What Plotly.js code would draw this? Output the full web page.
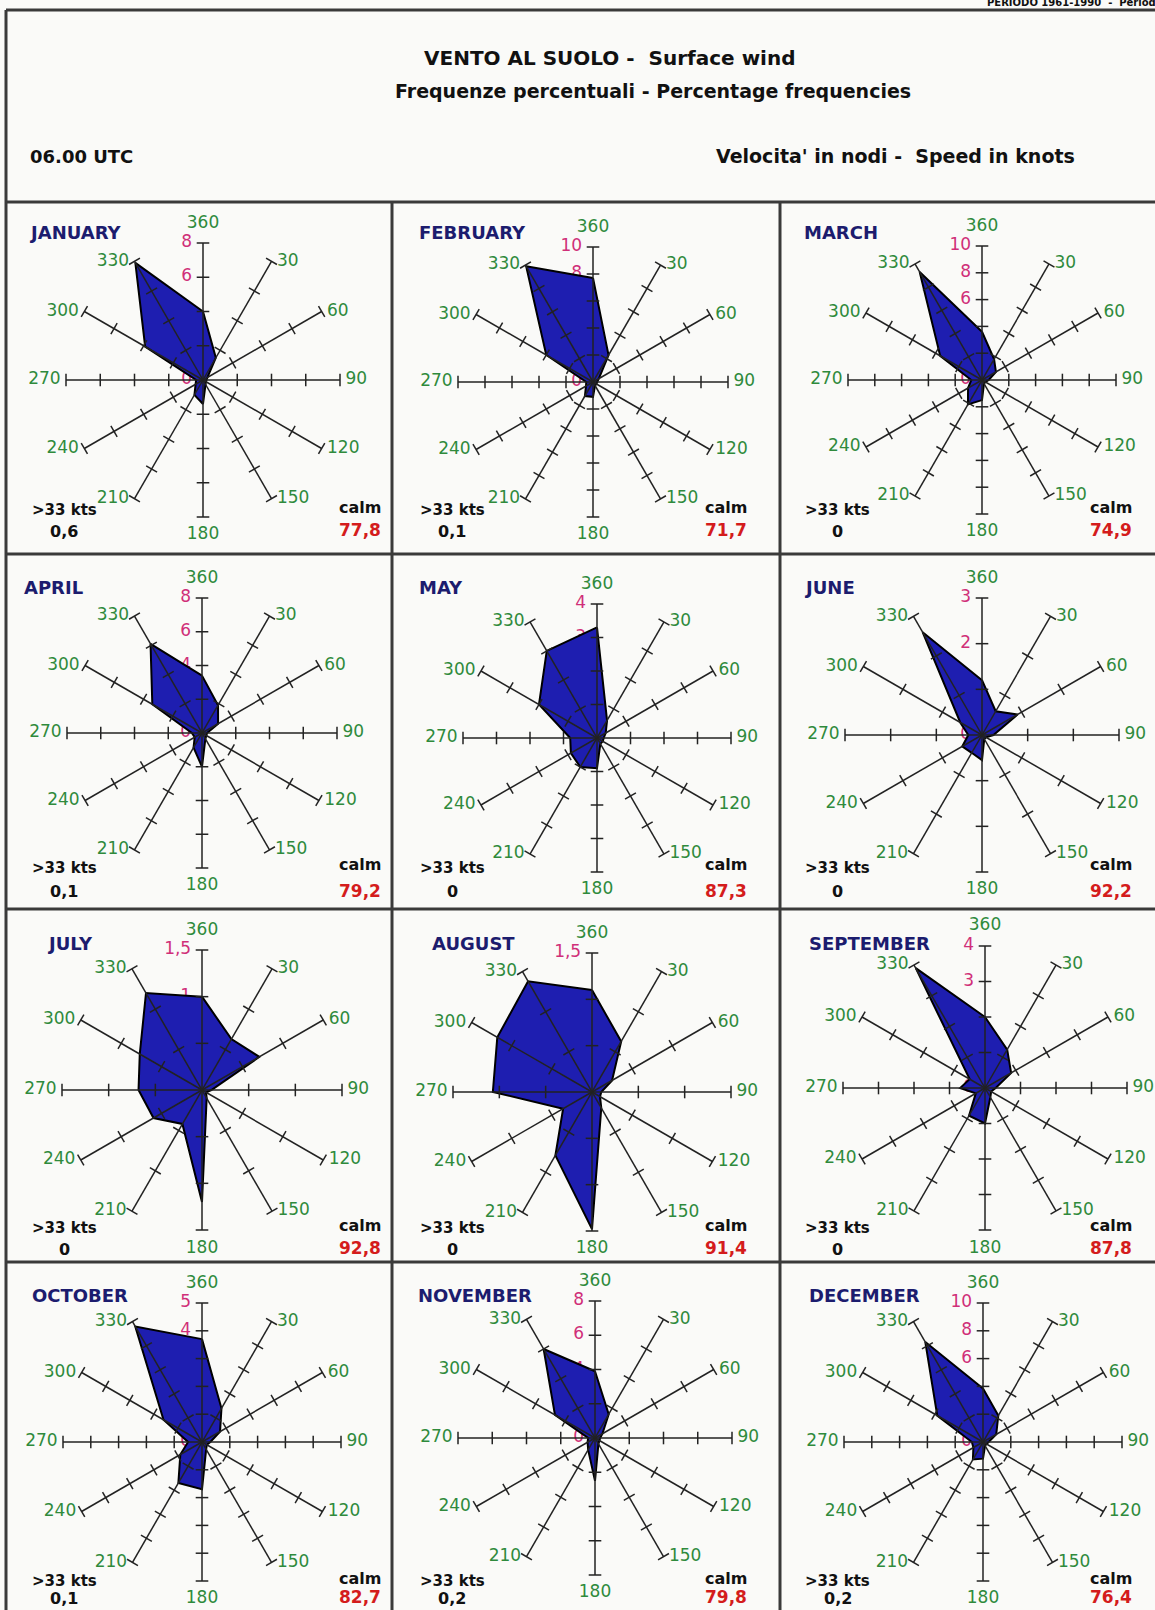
<!DOCTYPE html>
<html><head><meta charset="utf-8">
<script src="https://cdn.plot.ly/plotly-3.0.1.min.js"></script>
<style>html,body{margin:0;padding:0;background:#fafaf8;}#chart{width:1155px;height:1610px;}</style>
</head><body><div id="chart"></div>
<script>
// ---------- data ----------
const directions = [0, 30, 60, 90, 120, 150, 180, 210, 240, 270, 300, 330];
const directionLabels = ['360', '30', '60', '90', '120', '150', '180', '210', '240', '270', '300', '330'];
const months = ['JANUARY', 'FEBRUARY', 'MARCH', 'APRIL', 'MAY', 'JUNE', 'JULY', 'AUGUST', 'SEPTEMBER', 'OCTOBER', 'NOVEMBER', 'DECEMBER'];

const january   = [4.0, 1.5, 0.3, 0.2, 0.2, 0.3, 1.4, 1.0, 0.5, 0.4, 3.9, 7.9];
const february  = [7.7, 2.3, 0.5, 0.3, 0.3, 0.3, 1.1, 1.2, 0.6, 0.5, 4.0, 9.9];
const march     = [3.6, 1.8, 1.2, 0.5, 0.3, 0.3, 1.5, 2.1, 1.2, 0.8, 3.6, 9.3];
const april     = [3.4, 1.9, 1.1, 0.3, 0.3, 0.4, 2.0, 1.0, 0.5, 0.6, 3.4, 6.1];
const may       = [3.3, 0.6, 0.3, 0.2, 0.2, 0.2, 0.9, 1.0, 0.9, 0.8, 2.0, 3.0];
const june      = [1.2, 0.6, 0.9, 0.25, 0.1, 0.1, 0.55, 0.45, 0.5, 0.3, 0.55, 2.6];
const july      = [1.0, 0.63, 0.71, 0.1, 0.05, 0.1, 1.2, 0.42, 0.6, 0.68, 0.77, 1.2];
const august    = [1.1, 0.63, 0.25, 0.1, 0.1, 0.2, 1.48, 0.79, 0.36, 1.07, 1.18, 1.38];
const september = [2.0, 1.25, 0.85, 0.3, 0.2, 0.3, 1.0, 0.9, 0.3, 0.7, 0.5, 3.9];
const october   = [3.7, 1.4, 0.75, 0.3, 0.2, 0.3, 1.7, 1.7, 0.9, 0.5, 1.6, 4.8];
const november  = [3.9, 1.6, 0.5, 0.3, 0.3, 0.4, 2.5, 0.8, 0.5, 0.4, 2.7, 6.0];
const december  = [3.85, 2.2, 1.1, 0.4, 0.3, 0.3, 1.2, 1.45, 0.8, 0.8, 3.8, 8.3];

const radialTicks = [
  [0, 2, 4, 6, 8], [0, 2, 4, 6, 8, 10], [0, 2, 4, 6, 8, 10],
  [0, 2, 4, 6, 8], [0, 1, 2, 3, 4], [0, 1, 2, 3],
  [0, 0.5, 1, 1.5], [0, 0.5, 1, 1.5], [0, 1, 2, 3, 4],
  [0, 1, 2, 3, 4, 5], [0, 2, 4, 6, 8], [0, 2, 4, 6, 8, 10]
];
const over33 = ['0,6', '0,1', '0', '0,1', '0', '0', '0', '0', '0', '0,1', '0,2', '0,2'];
const calm = ['77,8', '71,7', '74,9', '79,2', '87,3', '92,2', '92,8', '91,4', '87,8', '82,7', '79,8', '76,4'];

// ---------- layout geometry (pixels) ----------
const W = 1155, H = 1610;
const series = [january, february, march, april, may, june, july, august, september, october, november, december];
const centerX = [203, 593, 982, 202, 597, 982, 202, 592, 985, 202, 595, 983];
const centerY = [380, 382, 380, 733, 738, 735, 1090, 1092, 1088, 1442, 1438, 1442];
const radius  = [137, 135, 134, 135, 134, 137, 140, 139, 142, 139, 137, 139];
const titleX  = [27, 417, 802, 22, 417, 802, 45, 430, 807, 30, 416, 807];
const titleY  = [233, 587, 943, 1295];
const colLeft = [6, 392, 780];
const rowTop = [202, 554, 909, 1262];
const labelY = [510, 868, 1228, 1581];
const valueY = [531, 892, 1249, 1598];
const over33X = [64, 452, 838];
const calmX = [360, 726, 1111];
const EXT = 1.14;  // extra radial room so the 360 / 180 labels sit beyond the spoke ends

const px = x => x / W;
const py = y => 1 - y / H;
const fmt = v => String(v).replace('.', ',');
const NB = '\u00a0';

const GREEN = '#2f8a3c', MAGENTA = '#d02f78', NAVY = '#1c1c6e', RED = '#d41c1c';
const FILL = '#1e1eb0', SPOKE = '#222222';

const labelPos = d => d === 0 ? 'top center' : d === 180 ? 'bottom center' : d < 180 ? 'middle right' : 'middle left';
const labelText = (d, t) => d === 0 || d === 180 ? t : d < 180 ? NB + t : t + NB;
const labelR = (d, rmax) => d === 0 ? rmax * 1.08 : d === 180 ? rmax * 1.07 : rmax;

const traces = [];
const layout = {
  width: W, height: H,
  margin: {l: 0, r: 0, t: 0, b: 0, pad: 0},
  paper_bgcolor: '#fafaf8',
  showlegend: false,
  font: {family: 'DejaVu Sans, Liberation Sans, sans-serif'},
  annotations: [],
  shapes: []
};

series.forEach((vals, i) => {
  const sp = i === 0 ? 'polar' : 'polar' + (i + 1);
  const ticks = radialTicks[i];
  const rmax = ticks[ticks.length - 1];

  // radial tick labels on the 360 spoke
  traces.push({
    type: 'scatterpolar', subplot: sp, mode: 'text',
    r: ticks, theta: ticks.map(() => 0), text: ticks.map(v => fmt(v) + NB + NB),
    textposition: 'middle left', cliponaxis: false, hoverinfo: 'skip',
    textfont: {family: 'DejaVu Sans, sans-serif', size: 17, color: MAGENTA}
  });
  // frequency polygon
  traces.push({
    type: 'scatterpolar', subplot: sp, mode: 'lines',
    r: vals.concat([vals[0]]), theta: directions.concat([directions[0]]),
    fill: 'toself', fillcolor: FILL, line: {color: '#000', width: 2},
    hoverinfo: 'skip'
  });
  // spokes
  const sr = [], st = [];
  directions.forEach(d => { sr.push(0, rmax, null); st.push(d, d, null); });
  traces.push({
    type: 'scatterpolar', subplot: sp, mode: 'lines', r: sr, theta: st,
    line: {color: SPOKE, width: 1.5}, connectgaps: false, cliponaxis: false, hoverinfo: 'skip'
  });
  // tick marks across each spoke
  const tr = [], tt = [];
  directions.forEach(d => ticks.filter(t => t > 0).forEach(t => { tr.push(t); tt.push(d); }));
  traces.push({
    type: 'scatterpolar', subplot: sp, mode: 'markers', r: tr, theta: tt,
    cliponaxis: false, hoverinfo: 'skip',
    marker: {symbol: 'line-ew', size: 9, angle: tt, color: SPOKE, line: {color: SPOKE, width: 1.5}}
  });
  // direction labels at spoke ends
  traces.push({
    type: 'scatterpolar', subplot: sp, mode: 'text',
    r: directions.map(d => labelR(d, rmax)),
    theta: directions,
    text: directions.map((d, k) => labelText(d, directionLabels[k])),
    textposition: directions.map(labelPos),
    cliponaxis: false, hoverinfo: 'skip',
    textfont: {family: 'DejaVu Sans, sans-serif', size: 17, color: GREEN}
  });

  const cx = centerX[i], cy = centerY[i], R = radius[i] * EXT;
  layout[sp] = {
    domain: {x: [px(cx - R), px(cx + R)], y: [py(cy + R), py(cy - R)]},
    bgcolor: 'rgba(0,0,0,0)',
    radialaxis: {range: [0, rmax * EXT], showgrid: false, showline: false, showticklabels: false, ticks: ''},
    angularaxis: {
      rotation: 90, direction: 'clockwise', tickmode: 'array', tickvals: directions,
      showgrid: false, showline: false, ticks: '', showticklabels: false
    }
  };

  const col = i % 3, row = Math.floor(i / 3);
  layout.annotations.push(
    {xref: 'paper', yref: 'paper', x: px(titleX[i]), y: py(titleY[row]), xanchor: 'left', yanchor: 'middle',
     text: '<b>' + months[i] + '</b>', showarrow: false, font: {family: 'DejaVu Sans, sans-serif', size: 18, color: NAVY}},
    {xref: 'paper', yref: 'paper', x: px(over33X[col]), y: py(labelY[row]), xanchor: 'center', yanchor: 'middle',
     text: '<b>&gt;33 kts</b>', showarrow: false, font: {family: 'DejaVu Sans, sans-serif', size: 15, color: '#111'}},
    {xref: 'paper', yref: 'paper', x: px(over33X[col]), y: py(valueY[row]), xanchor: 'center', yanchor: 'middle',
     text: '<b>' + over33[i] + '</b>', showarrow: false, font: {family: 'DejaVu Sans, sans-serif', size: 16, color: '#111'}},
    {xref: 'paper', yref: 'paper', x: px(calmX[col]), y: py(labelY[row] - 3), xanchor: 'center', yanchor: 'middle',
     text: '<b>calm</b>', showarrow: false, font: {family: 'DejaVu Sans, sans-serif', size: 16, color: '#111'}},
    {xref: 'paper', yref: 'paper', x: px(calmX[col]), y: py(valueY[row] - 1), xanchor: 'center', yanchor: 'middle',
     text: '<b>' + calm[i] + '</b>', showarrow: false, font: {family: 'DejaVu Sans, sans-serif', size: 17, color: RED}}
  );
});

// header texts
layout.annotations.push(
  {xref: 'paper', yref: 'paper', x: px(610), y: py(58), xanchor: 'center', yanchor: 'middle', showarrow: false,
   text: '<b>VENTO AL SUOLO -  Surface wind</b>', font: {family: 'DejaVu Sans, sans-serif', size: 20, color: '#111'}},
  {xref: 'paper', yref: 'paper', x: px(653), y: py(91), xanchor: 'center', yanchor: 'middle', showarrow: false,
   text: '<b>Frequenze percentuali - Percentage frequencies</b>', font: {family: 'DejaVu Sans, sans-serif', size: 19, color: '#111'}},
  {xref: 'paper', yref: 'paper', x: px(28), y: py(156), xanchor: 'left', yanchor: 'middle', showarrow: false,
   text: '<b>06.00 UTC</b>', font: {family: 'DejaVu Sans, sans-serif', size: 18, color: '#111'}},
  {xref: 'paper', yref: 'paper', x: px(1077), y: py(156), xanchor: 'right', yanchor: 'middle', showarrow: false,
   text: "<b>Velocita' in nodi -  Speed in knots</b>", font: {family: 'DejaVu Sans, sans-serif', size: 19, color: '#111'}},
  {xref: 'paper', yref: 'paper', x: px(985), y: py(2), xanchor: 'left', yanchor: 'middle', showarrow: false,
   text: '<b>PERIODO 1961-1990  -  Period 1961-1990</b>', font: {family: 'DejaVu Sans, sans-serif', size: 10, color: '#111'}}
);

// frame lines
const LINE = {color: '#3a3a3a', width: 3};
const hline = (y, x0, x1) => ({type: 'line', xref: 'paper', yref: 'paper', x0: px(x0), x1: px(x1), y0: py(y), y1: py(y), line: LINE});
const vline = (x, y0, y1) => ({type: 'line', xref: 'paper', yref: 'paper', x0: px(x), x1: px(x), y0: py(y0), y1: py(y1), line: LINE});
layout.shapes.push(hline(10, 6, 1160), vline(colLeft[0], 10, 1612));
rowTop.forEach(y => layout.shapes.push(hline(y, 6, 1160)));
layout.shapes.push(vline(colLeft[1], rowTop[0], 1612), vline(colLeft[2], rowTop[0], 1612));

Plotly.newPlot('chart', traces, layout, {staticPlot: true, displayModeBar: false});
</script>
</body></html>
